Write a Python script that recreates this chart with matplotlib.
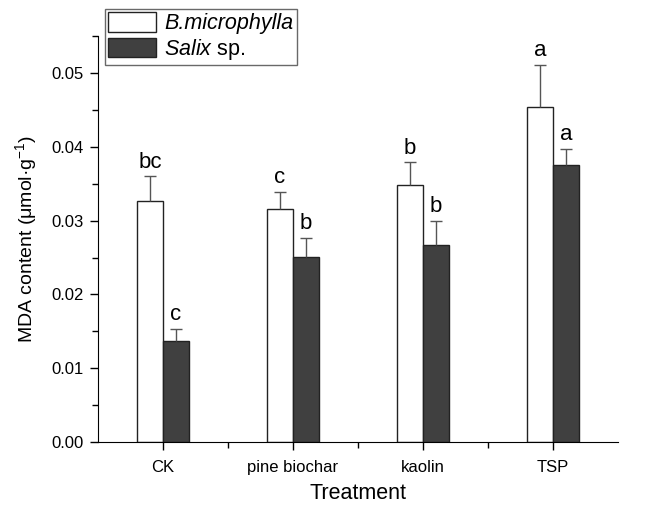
import matplotlib
matplotlib.use('Agg')
import matplotlib.pyplot as plt
import numpy as np
from matplotlib.ticker import MultipleLocator

plt.rcParams['font.family'] = ['Liberation Sans', 'DejaVu Sans']
plt.rcParams['mathtext.fontset'] = 'custom'
plt.rcParams['mathtext.rm'] = 'Liberation Sans'
plt.rcParams['mathtext.it'] = 'Liberation Sans:italic'

# dados
treatments = ['CK', 'pine biochar', 'kaolin', 'TSP']
bmicro = [0.0326, 0.0316, 0.0348, 0.0454]
bmicro_err = [0.0034, 0.0023, 0.0031, 0.0057]
salix = [0.0137, 0.0251, 0.0267, 0.0375]
salix_err = [0.0016, 0.0026, 0.0033, 0.0022]
bmicro_letters = ['bc', 'c', 'b', 'a']
salix_letters = ['c', 'b', 'b', 'a']

x = np.arange(len(treatments))
w = 0.2

fig = plt.figure(figsize=(6.49, 5.09), dpi=100)
ax = fig.add_axes([0.151, 0.1316, 0.801, 0.7974])

ekw = dict(ecolor='#555555', elinewidth=1.0, capsize=4, capthick=1.0)
b1 = ax.bar(x - w/2, bmicro, w, color='white', edgecolor='#222222', linewidth=1.0,
            yerr=[np.zeros(len(x)), bmicro_err], error_kw=ekw, label='B.microphylla')
b2 = ax.bar(x + w/2, salix, w, color='#404040', edgecolor='#222222', linewidth=1.0,
            yerr=[np.zeros(len(x)), salix_err], error_kw=ekw, label='$\\mathit{Salix}$ sp.')
# esconde o cap de baixo das barras de erro
for bars in (b1, b2):
    caps = bars.errorbar.lines[1]
    if len(caps) > 0:
        caps[0].set_visible(False)

for i in range(len(x)):
    ax.text(x[i] - w/2, bmicro[i] + bmicro_err[i] + 0.0005, bmicro_letters[i],
            ha='center', va='bottom', fontsize=16)
    ax.text(x[i] + w/2, salix[i] + salix_err[i] + 0.0005, salix_letters[i],
            ha='center', va='bottom', fontsize=16)

ax.set_xlim(-0.5, 3.5)
ax.set_ylim(0, 0.055)
ax.set_xticks(x)
ax.set_xticklabels(treatments, fontsize=12)
ax.set_xticks([0.5, 1.5, 2.5], minor=True)
ax.yaxis.set_minor_locator(MultipleLocator(0.005))
ax.set_yticks(np.arange(0, 0.051, 0.01))
ax.set_yticklabels([f'{v:.2f}' for v in np.arange(0, 0.051, 0.01)], fontsize=12)
ax.tick_params(which='major', length=6, width=1.0, pad=4)
ax.tick_params(axis='x', which='major', pad=7)
ax.tick_params(which='minor', length=4, width=1.0)
ax.spines['top'].set_visible(False)
ax.spines['right'].set_visible(False)
ax.set_xlabel('Treatment', fontsize=15.5, labelpad=6)
ax.set_ylabel('MDA content (μmol·g$^{-1}$)', fontsize=14, labelpad=9)

leg = fig.legend(loc='upper left', bbox_to_anchor=(0.162, 0.982), fontsize=15.5,
                 frameon=True, fancybox=False, edgecolor='#444444',
                 handlelength=2.2, handleheight=1.0, borderpad=0.15, labelspacing=0.1,
                 handletextpad=0.4, borderaxespad=0)
leg.get_frame().set_linewidth(1.0)
leg.get_texts()[0].set_fontstyle('italic')

plt.savefig('out.png', dpi=100)
